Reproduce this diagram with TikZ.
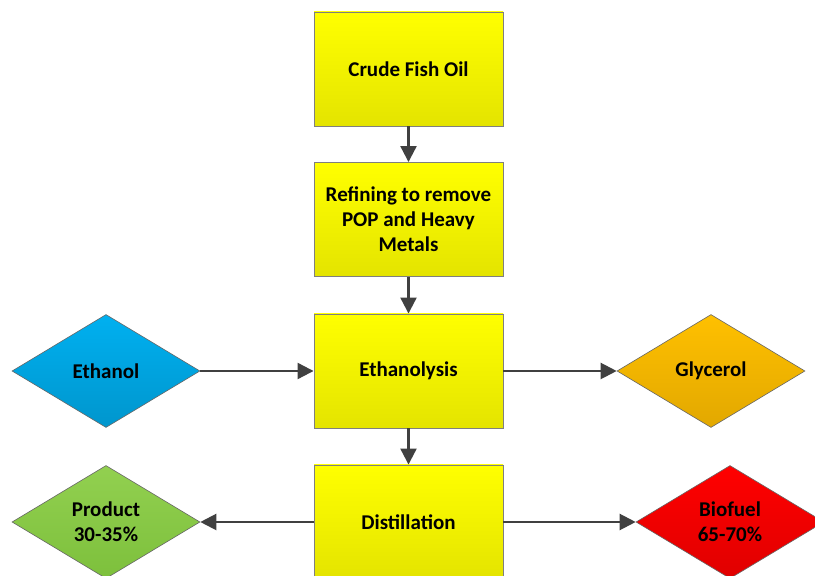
\documentclass[tikz,border=0pt]{standalone}
\usepackage{fontspec}
\setmainfont{Carlito}
\usetikzlibrary{shapes.geometric,arrows.meta}
\definecolor{arrowgray}{HTML}{404040}
\definecolor{edgegray}{HTML}{7F7F7F}
\begin{document}
\begin{tikzpicture}[x=1pt,y=1pt,
  procbox/.style={draw=edgegray, line width=0.9pt, top color=yellow!100, bottom color={rgb,255:red,228;green,228;blue,0},
    minimum width=189pt, minimum height=114pt, inner sep=0pt, align=center,
    font=\fontsize{21}{25}\selectfont\bfseries},
  dia/.style={diamond, draw=black!60, line width=0.6pt, aspect=1.66, inner sep=0pt,
    minimum width=188pt, minimum height=113pt, align=center,
    font=\fontsize{21}{25}\selectfont\bfseries},
  flow/.style={draw=arrowgray, line width=2.2pt, -{Triangle[length=16pt,width=16pt]}}]
\useasboundingbox (0,0) rectangle (815,576);
\node[procbox] (crude) at (408.5,507) {Crude Fish Oil};
\node[procbox] (refine) at (408.5,356.5) {Refining to remove\\POP and Heavy\\Metals};
\node[procbox] (ethly) at (408.5,205) {Ethanolysis};
\node[procbox] (dist) at (408.5,54) {Distillation};
\node[dia, top color={rgb,255:red,0;green,176;blue,240}, bottom color={rgb,255:red,0;green,150;blue,205}] (ethanol) at (106,205) {Ethanol};
\node[dia, top color={rgb,255:red,255;green,192;blue,0}, bottom color={rgb,255:red,226;green,168;blue,0}] (glycerol) at (711,205) {Glycerol};
\node[dia, top color={rgb,255:red,146;green,208;blue,80}, bottom color={rgb,255:red,125;green,192;blue,60}] (product) at (106,54) {Product\\30-35\%};
\node[dia, top color={rgb,255:red,255;green,0;blue,0}, bottom color={rgb,255:red,224;green,0;blue,0}] (biofuel) at (730,54) {Biofuel\\65-70\%};
\draw[flow] (crude) -- (refine);
\draw[flow] (refine) -- (ethly);
\draw[flow] (ethly) -- (dist);
\draw[flow] (ethanol) -- (ethly);
\draw[flow] (ethly) -- (glycerol);
\draw[flow] (dist) -- (product);
\draw[flow] (dist) -- (biofuel);
\end{tikzpicture}
\end{document}
